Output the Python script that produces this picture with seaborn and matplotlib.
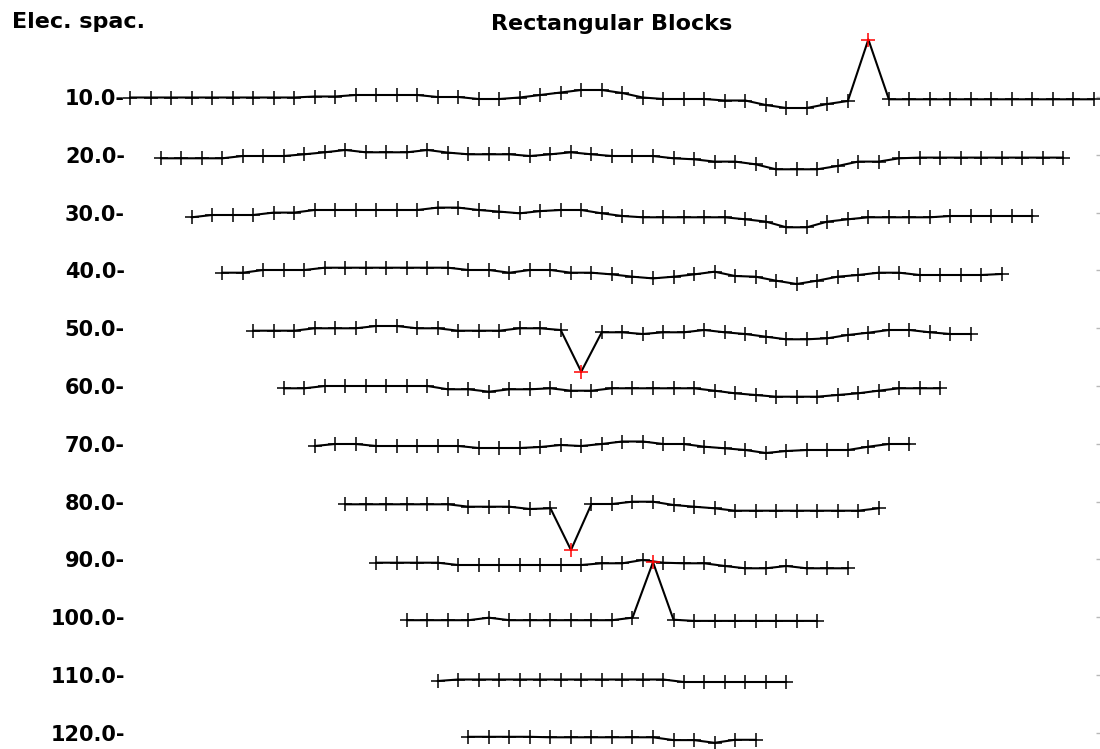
import numpy as np
import pandas as pd
import matplotlib
matplotlib.use("Agg")
import matplotlib.pyplot as plt
import seaborn as sns

# survey geometry (Wenner, 10 m unit, 500 m line)
line_length = 500.0
unit = 10.0
spacings = [10, 20, 30, 40, 50, 60, 70, 80, 90, 100, 110, 120]

# apparent resistivity anomaly along each datum level
anom_10 = [-0.5, -0.5, -0.5, -0.5, -0.5, -0.5, -0.5, -0.5, -0.5, 0.5,
           0.5, 2, 2, 2, 2, 0, 0, -2, -2, -0.5,
           2, 4.5, 7, 7, 4, -0.5, -2, -2, -2, -3.5,
           -3.5, -8, -11, -11, -7, -4, 57.5, -2.3, -2.3, -2.3,
           -2.3, -2.3, -2.3, -2.3, -2.3, -2.3, -2.3, -2.3]
anom_20 = [-3.5, -3.5, -3.5, -3.5, -1.2, -1.2, -1.2, 0.5, 2.5, 4.8,
           2.5, 2.5, 2.5, 4.8, 2.2, 0.5, 0.5, 0.5, -1.2, 0.5,
           2.5, 0.5, -1.2, -1.2, -1.2, -3.5, -4.5, -6.8, -6.8, -9.5,
           -14.5, -14.5, -14.5, -11.2, -6.8, -6.8, -3.5, -2.8, -2.8, -2.8,
           -2.8, -2.8, -2.8, -2.8, -2.8]
anom_30 = [-4.7, -2.4, -2.4, -2.4, 0, 0, 2.6, 2.6, 2.6, 2.6,
           2.6, 2.6, 5, 5, 2.6, 1, -0.7, 1.5, 2.6, 2.6,
           -0.7, -3.4, -4.7, -4.7, -4.7, -4.7, -4.7, -6.7, -9, -14.7,
           -14.7, -9, -6.7, -4.7, -4.7, -4.7, -4.7, -3.4, -3.4, -3.4,
           -3.4, -3.4]
anom_40 = [-2.3, -2.3, 0.4, 0.4, 0.4, 2.7, 2.7, 2.7, 2.7, 2.7,
           2.7, 2.7, 0.4, 0.4, -2.3, 0.4, 0.4, -2.3, -2.3, -4,
           -6.3, -8, -6.3, -4, -1.3, -5.6, -6.3, -10.3, -13.6, -10.3,
           -6.3, -4.6, -2.3, -2.3, -4.6, -4.6, -4.6, -4.6, -3.6]
anom_50 = [-2.5, -2.5, -2.5, -0.1, -0.1, -0.1, 2.2, 2.2, -0.1, -0.1,
           -2.5, -2.5, -2.5, -0.1, -0.1, -1.8, -43.5, -4.1, -4.1, -5.8,
           -4.1, -4.1, -1.8, -4.1, -5.8, -8.5, -11.1, -11.1, -10.1, -6.8,
           -4.5, -1.8, -1.8, -4.1, -5.8, -5.8]
anom_60 = [-2.3, -2.3, 0, 0, 0, 0, 0, 0, -3.3, -3.3,
           -5.7, -3.3, -3.3, -2.3, -4.7, -4.7, -2.3, -2.3, -2.3, -2.3,
           -2.3, -4.7, -7.3, -9, -10.7, -10.7, -10.7, -9, -7.3, -4.7,
           -2.3, -2.3, -2.3]
anom_70 = [-2.2, -0.2, -0.2, -2.2, -2.2, -2.2, -2.2, -2.2, -4.2, -4.2,
           -4.2, -3.2, -1.2, -2.2, -0.2, 2.3, 2.3, -0.2, -0.2, -2.9,
           -4.5, -6.2, -9.2, -7.2, -6.2, -6.2, -6.2, -2.9, -0.2, -0.2]
anom_80 = [-2.7, -2.7, -2.7, -2.7, -2.7, -2.7, -5.1, -5.1, -5.1, -7.4,
           -6.7, -48.4, -2.4, -2.4, -0.1, -0.1, -3.4, -5.1, -6.7, -9.1,
           -9.1, -9.1, -9.1, -9.1, -9.1, -9.1, -6.7]
anom_90 = [-3.3, -3.3, -3.3, -3.3, -5.6, -5.6, -5.6, -5.6, -5.6, -5.6,
           -5.6, -3.9, -3.9, -0.6, -3.3, -3.9, -3.9, -6.6, -8.9, -8.9,
           -6.6, -8.9, -8.9, -8.9]
anom_100 = [-3, -3, -3, -3, -0.5, -3, -3, -3, -3, -3,
            -3, -0.5, 55, -2.5, -3.7, -3.7, -3.7, -3.7, -3.7, -3.7,
            -3.7]
anom_110 = [-6, -4.5, -4.5, -4.5, -4.5, -4.5, -4.5, -4.5, -4.5, -4.5,
            -4.5, -4.5, -7, -7, -7, -7, -7, -7]
anom_120 = [-4, -4, -4, -4, -4.5, -4.5, -4.5, -4.5, -4.5, -4.5,
            -7.3, -7.3, -10, -7, -7]

anomalies = [anom_10, anom_20, anom_30, anom_40, anom_50, anom_60,
             anom_70, anom_80, anom_90, anom_100, anom_110, anom_120]

# plotted offset of one anomaly unit, in metres of the spacing axis
SCALE = 10.0 / 57.8
BAD_LIMIT = 30

rows = []
for a, vals in zip(spacings, anomalies):
    xs = np.arange(1.5 * a, line_length - 1.5 * a + 1, unit)
    for x, v in zip(xs, vals):
        rows.append({"spacing": a, "x": x, "anom": v,
                     "y": a - v * SCALE, "bad": abs(v) > BAD_LIMIT})
df = pd.DataFrame(rows)

sns.set_style("white")
plt.rcParams["font.family"] = ["DejaVu Sans"]
plt.rcParams["text.color"] = "black"
plt.rcParams["ytick.labelcolor"] = "black"

fig = plt.figure(figsize=(11, 7.49), dpi=100)
ax = fig.add_axes([127 / 1100, 0.0, 1 - 127 / 1100, (749 - 30) / 749])

sns.lineplot(data=df, x="x", y="y", units="spacing", estimator=None,
             sort=False, color="black", lw=1.5, ax=ax, zorder=2)
sns.scatterplot(data=df[~df["bad"]], x="x", y="y", marker="+", s=90,
                color="black", linewidth=1.1, ax=ax, zorder=3, clip_on=False)
sns.scatterplot(data=df[df["bad"]], x="x", y="y", marker="+", s=90,
                color="red", linewidth=1.1, ax=ax, zorder=4, clip_on=False)

px_per_m = 2.051
ax.set_xlim(15 + (127 - 130) / px_per_m, 15 + (1100 - 130) / px_per_m)
ax.set_ylim(10 + (749 - 97) / 5.78, 10 + (30 - 97) / 5.78)

ax.set_xticks([])
ax.set_yticks(spacings)
ax.set_yticklabels([f"{a:.1f}-" for a in spacings], fontsize=15,
                   fontweight="bold", color="black")
ax.tick_params(axis="y", left=False, right=True, length=3, width=1,
               color="#b8b8b8", labelcolor="black", direction="in", pad=1.5)
ax.set_xlabel("")
ax.set_ylabel("")
for sp in ax.spines.values():
    sp.set_visible(False)

fig.text(12 / 1100, (749 - 28) / 749, "Elec. spac.", fontsize=16,
         fontweight="bold", ha="left", va="baseline", color="black")
fig.text(612 / 1100, (749 - 30) / 749, "Rectangular Blocks", fontsize=16,
         fontweight="bold", ha="center", va="baseline", color="black")

fig.savefig("out.png", dpi=100)
